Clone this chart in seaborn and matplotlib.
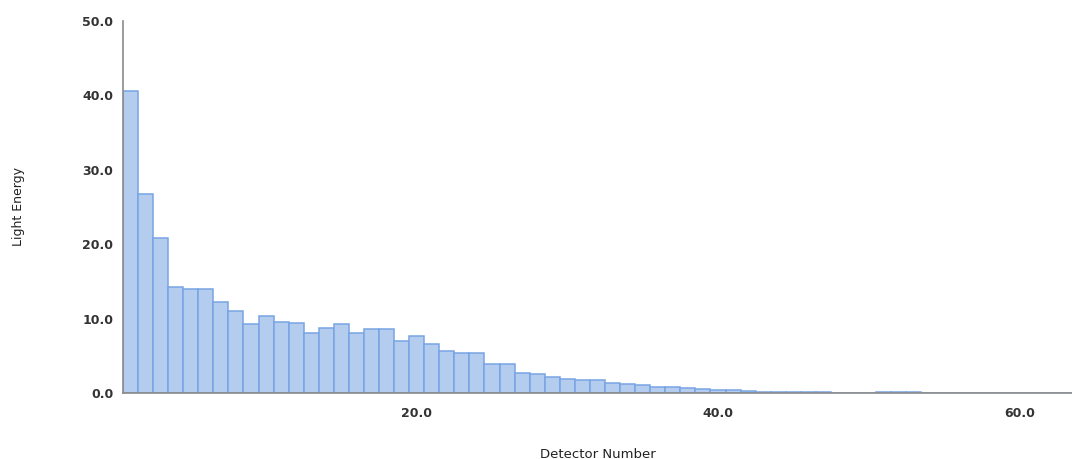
import matplotlib
matplotlib.use('Agg')
import matplotlib.pyplot as plt
import seaborn as sns
from matplotlib.ticker import FormatStrFormatter

detectors = list(range(1, 64))
light_energy = [
    40.5, 26.7, 20.8, 14.3, 13.9, 13.9, 12.2, 11.0, 9.2, 10.3,
    9.5, 9.4, 8.1, 8.7, 9.3, 8.1, 8.6, 8.6, 7.0, 7.6,
    6.6, 5.7, 5.4, 5.4, 3.9, 3.9, 2.7, 2.5, 2.2, 1.9,
    1.7, 1.7, 1.4, 1.2, 1.1, 0.85, 0.75, 0.65, 0.55, 0.45,
    0.35, 0.25, 0.18, 0.12, 0.1, 0.08, 0.07, 0.06, 0.06, 0.06,
    0.08, 0.18, 0.1, 0.06, 0.05, 0.05, 0.05, 0.05, 0.05, 0.05,
    0.05, 0.05, 0.05,
]
x_ticks = [20, 40, 60]
y_ticks = [0, 10, 20, 30, 40, 50]

sns.set_style('white')
plt.rcParams['font.family'] = ['DejaVu Sans']

fig = plt.figure(figsize=(10.72, 4.59), dpi=100, facecolor='white')
ax = fig.add_axes([0.1147, 0.1438, 0.8853, 0.8111])

sns.barplot(x=detectors, y=light_energy, native_scale=True, width=1.0,
            color='#b4cdef', edgecolor='#78a4e4', linewidth=1.1,
            saturation=1, ax=ax)

ax.set_xlim(0.5, 63.5)
ax.set_ylim(0, 50)
ax.set_xticks(x_ticks)
ax.set_yticks(y_ticks)
ax.xaxis.set_major_formatter(FormatStrFormatter('%.1f'))
ax.yaxis.set_major_formatter(FormatStrFormatter('%.1f'))

for s in ['top', 'right']:
    ax.spines[s].set_visible(False)
for s in ['left', 'bottom']:
    ax.spines[s].set_color('#8a8a8a')
    ax.spines[s].set_linewidth(1.2)

ax.tick_params(axis='both', direction='out', length=5, width=1.2,
               color='#555555', labelcolor='#333333', labelsize=9)
ax.tick_params(axis='x', pad=5)
ax.tick_params(axis='y', pad=2)
for lbl in ax.get_xticklabels() + ax.get_yticklabels():
    lbl.set_fontweight('bold')

ax.set_xlabel('Detector Number', fontsize=9.5, color='#222222', labelpad=20)
ax.set_ylabel('Light Energy', fontsize=9, color='#222222', labelpad=41)

plt.savefig('out.png', dpi=100, facecolor='white')
plt.close()
